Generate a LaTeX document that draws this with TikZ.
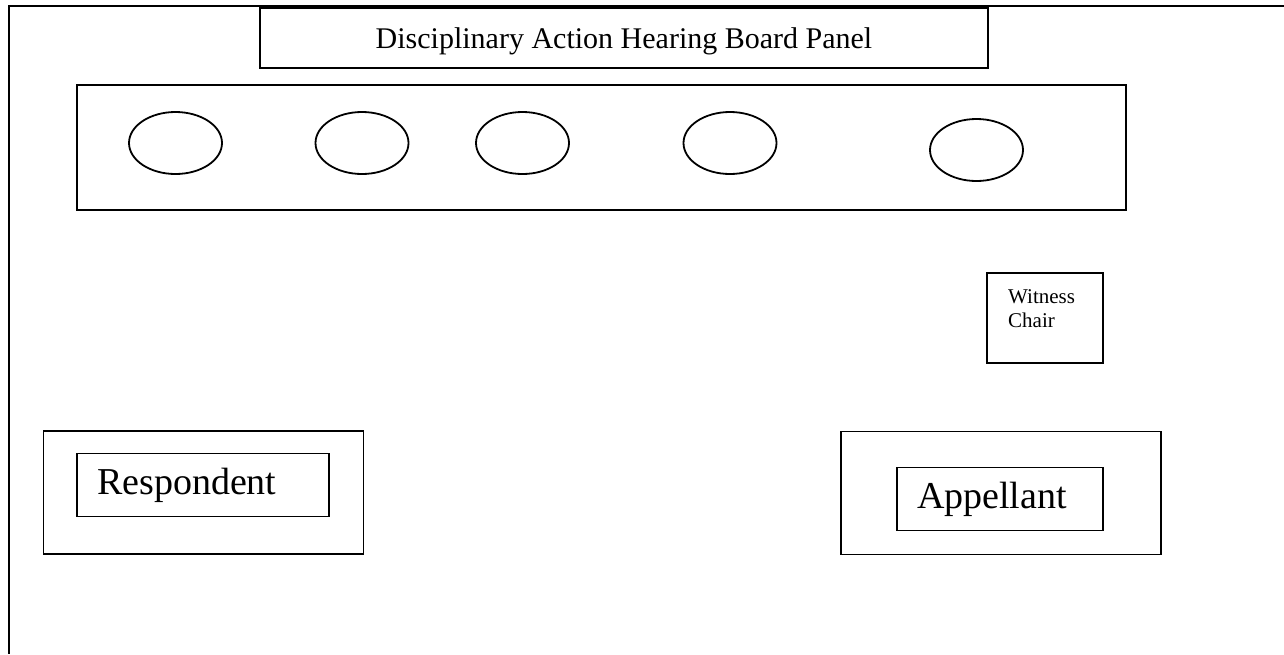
\documentclass[tikz,border=0pt]{standalone}
\usepackage{fontspec}
\setmainfont{Liberation Serif}
\usetikzlibrary{positioning,shapes.geometric}
\tikzset{
  roomline/.style={line width=2pt},
  panelbox/.style={draw, line width=1.8pt, minimum width=728, minimum height=60, inner sep=0pt, text height=20pt, text depth=0pt, font=\fontsize{30}{36}\selectfont},
  benchbox/.style={draw, line width=1.8pt, minimum width=1049, minimum height=125},
  seatoval/.style={draw, ellipse, line width=1.8pt, inner sep=0pt, minimum width=93, minimum height=62},
  chairbox/.style={draw, line width=2pt, minimum width=116, minimum height=90},
  chairtext/.style={inner sep=0pt, align=left, font=\fontsize{21}{24}\selectfont},
  tablebox/.style={draw, line width=1.8pt, minimum width=320, minimum height=123},
  partybox/.style={draw, line width=1.3pt, minimum height=63, inner xsep=20pt, inner ysep=0pt, align=left, font=\fontsize{38}{44}\selectfont}
}
\begin{document}
\begin{tikzpicture}[x=1pt, y=-1pt]
  \useasboundingbox (0,0) rectangle (1284,654);
  % room walls
  \coordinate (wallend) at (1284,6);
  \coordinate (wallcorner) at (9,6);
  \coordinate (wallfoot) at (9,654);
  \draw[roomline] (wallend) -- (wallcorner) -- (wallfoot);
  % panel
  \node[panelbox] (panel) at (624,38) {Disciplinary Action Hearing Board Panel};
  \node[benchbox] (bench) at (601.5,147.5) {};
  \node[seatoval] (seat1) at (175.5,143) {};
  \node[seatoval] (seat2) at (362,143) {};
  \node[seatoval] (seat3) at (522.5,143) {};
  \node[seatoval] (seat4) at (730,143) {};
  \node[seatoval] (seat5) at (976.5,150) {};
  % witness
  \node[chairbox] (witness) at (1045,318) {};
  \node[chairtext, anchor=north west] (witnesslabel) at (1008,289) {Witness\\Chair};
  % parties
  \node[tablebox] (resptable) at (203.5,492.5) {};
  \node[partybox, text width=212pt] (respondent) at (203,485) {Respondent};
  \node[tablebox] (appltable) at (1001,493) {};
  \node[partybox, text width=166pt] (appellant) at (1000,499) {Appellant};
\end{tikzpicture}
\end{document}
